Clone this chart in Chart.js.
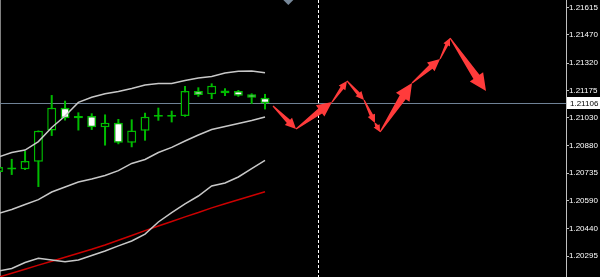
<!DOCTYPE html>
<html>
<head>
<meta charset="utf-8">
<script src="https://cdn.jsdelivr.net/npm/chart.js"></script>
<style>
  html, body { margin: 0; padding: 0; background: #000; }
  #wrap { width: 600px; height: 277px; position: relative; }
</style>
</head>
<body>
<div id="wrap"><canvas id="chart"></canvas></div>
<script>
// bars (index on the x axis), oldest first
var barIdx = [0, 1, 2, 3, 4, 5, 6, 7, 8, 9, 10, 11, 12, 13, 14, 15, 16, 17, 18, 19, 20];
var openP  = [1.20741, 1.20765, 1.20756, 1.20796, 1.20962, 1.21083, 1.21027, 1.21039, 1.20979, 1.21003, 1.20897,
              1.20961, 1.21035, 1.21035, 1.21039, 1.21172, 1.21154, 1.21159, 1.21172, 1.21154, 1.21136];
var highP  = [1.20779, 1.20811, 1.20853, 1.20962, 1.21150, 1.21120, 1.21058, 1.21053, 1.21047, 1.21023, 1.21021,
              1.21056, 1.21083, 1.21067, 1.21198, 1.21191, 1.21212, 1.21186, 1.21177, 1.21159, 1.21156];
var lowP   = [1.20731, 1.20726, 1.20752, 1.20662, 1.20933, 1.21015, 1.20962, 1.20965, 1.20882, 1.20889, 1.20873,
              1.20908, 1.21014, 1.21005, 1.21035, 1.21141, 1.21129, 1.21145, 1.21141, 1.21103, 1.21074];
var closeP = [1.20768, 1.20755, 1.20800, 1.20961, 1.21083, 1.21027, 1.21039, 1.20979, 1.21003, 1.20897, 1.20962,
              1.21035, 1.21044, 1.21044, 1.21172, 1.21150, 1.21200, 1.21174, 1.21147, 1.21136, 1.21106];

// indicator lines
var upperBand = [1.20821, 1.20845, 1.20858, 1.20903, 1.20978, 1.21039, 1.21111, 1.21138, 1.21157, 1.21169, 1.21185,
                 1.21203, 1.21212, 1.21212, 1.21227, 1.21240, 1.21249, 1.21267, 1.21277, 1.21278, 1.21268];
var midBand   = [1.20521, 1.20542, 1.20569, 1.20595, 1.20635, 1.20662, 1.20688, 1.20704, 1.20723, 1.20749, 1.20787,
                 1.20808, 1.20845, 1.20872, 1.20906, 1.20938, 1.20967, 1.20983, 1.20999, 1.21015, 1.21034];
var lowerBand = [1.20216, 1.20229, 1.20261, 1.20283, 1.20274, 1.20265, 1.20274, 1.20298, 1.20322, 1.20349, 1.20375,
                 1.20412, 1.20476, 1.20526, 1.20572, 1.20614, 1.20667, 1.20683, 1.20715, 1.20760, 1.20803];
var redMA     = [1.20183, 1.20204, 1.20225, 1.20247, 1.20268, 1.20289, 1.20310, 1.20331, 1.20354, 1.20379, 1.20404,
                 1.20430, 1.20455, 1.20479, 1.20503, 1.20526, 1.20551, 1.20573, 1.20594, 1.20615, 1.20637];

// forecast arrow path (bar position, price)
var arrowX = [20.6, 22.33, 25.03, 26.15, 27.43, 28.25, 28.63, 31.03, 33.13, 33.88, 36.58];
var arrowY = [1.21092, 1.20970, 1.21113, 1.21225, 1.21124, 1.21002, 1.20954, 1.21214, 1.21342, 1.21453, 1.21172];

var yTicks = [1.21615, 1.21470, 1.21320, 1.21175, 1.21030, 1.20880, 1.20735, 1.20590, 1.20440, 1.20295];
var lastPrice = 1.21106;
var separatorX = 24;
var shiftMarkX = 21.75;

var candleGreen = '#00bb00';

function pts(arr) {
    return barIdx.map(function (x, i) { return { x: x, y: arr[i] }; });
}

// tapered shaft + triangular head, like the terminal's hand drawn arrows
function drawArrow(c, x0, y0, x1, y1) {
    var dx = x1 - x0, dy = y1 - y0, len = Math.sqrt(dx * dx + dy * dy);
    var ux = dx / len, uy = dy / len, nx = -uy, ny = ux;
    var hl = Math.max(7, Math.min(17, len * 0.33));
    var hw = Math.max(7, hl * 0.95) / 2;
    var bx = x1 - ux * hl, by = y1 - uy * hl;
    var sw = hw * 0.45;
    c.beginPath();
    c.moveTo(x0 + nx * 0.6, y0 + ny * 0.6);
    c.lineTo(bx + nx * sw, by + ny * sw);
    c.lineTo(bx + nx * hw, by + ny * hw);
    c.lineTo(x1, y1);
    c.lineTo(bx - nx * hw, by - ny * hw);
    c.lineTo(bx - nx * sw, by - ny * sw);
    c.lineTo(x0 - nx * 0.6, y0 - ny * 0.6);
    c.closePath();
    c.fill();
}

var mtPlugin = {
    id: 'mt',
    beforeDraw: function (chart) {
        var c = chart.ctx;
        c.save();
        c.fillStyle = '#000';
        c.fillRect(0, 0, chart.width, chart.height);
        c.restore();
    },
    beforeDatasetsDraw: function (chart) {
        var c = chart.ctx, a = chart.chartArea, xs = chart.scales.x, ys = chart.scales.y;
        c.save();
        c.lineWidth = 1;
        // left frame
        c.strokeStyle = '#808080';
        c.beginPath(); c.moveTo(a.left + 0.5, a.top); c.lineTo(a.left + 0.5, a.bottom); c.stroke();
        // bid line
        var py = Math.round(ys.getPixelForValue(lastPrice)) + 0.5;
        c.strokeStyle = '#6f8296';
        c.beginPath(); c.moveTo(a.left, py); c.lineTo(a.right, py); c.stroke();
        // period separator
        var sx = Math.round(xs.getPixelForValue(separatorX)) + 0.5;
        c.strokeStyle = '#ffffff';
        c.setLineDash([3, 2]);
        c.beginPath(); c.moveTo(sx, a.top); c.lineTo(sx, a.bottom); c.stroke();
        c.restore();
    },
    afterDatasetsDraw: function (chart) {
        var c = chart.ctx, a = chart.chartArea, xs = chart.scales.x;
        var meta = chart.getDatasetMeta(chart.data.datasets.length - 1);
        c.save();
        c.fillStyle = '#ff3b3b';
        for (var i = 1; i < meta.data.length; i++) {
            drawArrow(c, meta.data[i - 1].x, meta.data[i - 1].y, meta.data[i].x, meta.data[i].y);
        }
        // chart shift marker
        var tx = xs.getPixelForValue(shiftMarkX);
        c.fillStyle = '#778899';
        c.beginPath(); c.moveTo(tx - 5, a.top); c.lineTo(tx + 5, a.top); c.lineTo(tx, a.top + 5); c.closePath(); c.fill();
        c.restore();
    },
    afterDraw: function (chart) {
        var c = chart.ctx, a = chart.chartArea, ys = chart.scales.y;
        var py = Math.round(ys.getPixelForValue(lastPrice));
        c.save();
        c.fillStyle = '#ffffff';
        c.fillRect(a.right + 1, py - 6, chart.width - a.right - 1, 12);
        c.fillStyle = '#000000';
        c.font = '8px "Liberation Sans"';
        c.textBaseline = 'middle';
        c.fillText(lastPrice.toFixed(5), a.right + 4, py + 0.5);
        c.restore();
    }
};

var ctx = document.getElementById('chart').getContext('2d');
var chart = new Chart(ctx, {
    type: 'bar',
    data: {
        datasets: [
            { type: 'line', data: pts(upperBand), borderColor: '#c8c8c8', borderWidth: 1.5, pointRadius: 0, tension: 0, order: 0 },
            { type: 'line', data: pts(midBand), borderColor: '#c8c8c8', borderWidth: 1.5, pointRadius: 0, tension: 0, order: 0 },
            { type: 'line', data: pts(lowerBand), borderColor: '#c8c8c8', borderWidth: 1.5, pointRadius: 0, tension: 0, order: 0 },
            { type: 'line', data: pts(redMA), borderColor: '#cc0000', borderWidth: 1.5, pointRadius: 0, tension: 0, order: 0 },
            {   // bodies
                data: barIdx.map(function (x, i) { return { x: x, y: [openP[i], closeP[i]] }; }),
                backgroundColor: closeP.map(function (cl, i) { return cl > openP[i] ? '#000000' : '#ffffff'; }),
                borderColor: candleGreen, borderWidth: 1.5, borderSkipped: false,
                barThickness: 9, grouped: false, inflateAmount: 0, order: 1
            },
            {   // wicks
                data: barIdx.map(function (x, i) { return { x: x, y: [lowP[i], highP[i]] }; }),
                backgroundColor: candleGreen, borderWidth: 0,
                barThickness: 2, grouped: false, inflateAmount: 0, order: 2
            },
            {   // forecast path, drawn as arrows by the plugin
                type: 'line', showLine: false, pointRadius: 0,
                data: arrowX.map(function (x, i) { return { x: x, y: arrowY[i] }; }), order: 0
            }
        ]
    },
    options: {
        responsive: true, maintainAspectRatio: false, animation: false,
        events: [],
        layout: { padding: 0 },
        plugins: { legend: { display: false }, tooltip: { enabled: false } },
        scales: {
            x: { type: 'linear', display: false, offset: false, min: 0.12, max: 42.58 },
            y: {
                type: 'linear', position: 'right', min: 1.201839, max: 1.216548,
                border: { display: true, color: '#c0c0c0' },
                grid: { display: true, drawOnChartArea: false, drawTicks: true, tickLength: 3, color: '#c0c0c0' },
                ticks: {
                    color: '#ffffff', padding: 0, autoSkip: false,
                    font: { family: 'Liberation Sans', size: 8 },
                    callback: function (v) { return Number(v).toFixed(5); }
                },
                afterBuildTicks: function (s) { s.ticks = yTicks.map(function (v) { return { value: v }; }); },
                afterFit: function (s) { s.width = 34; s.paddingTop = 0; s.paddingBottom = 0; }
            }
        }
    },
    plugins: [mtPlugin]
});
</script>
</body>
</html>
